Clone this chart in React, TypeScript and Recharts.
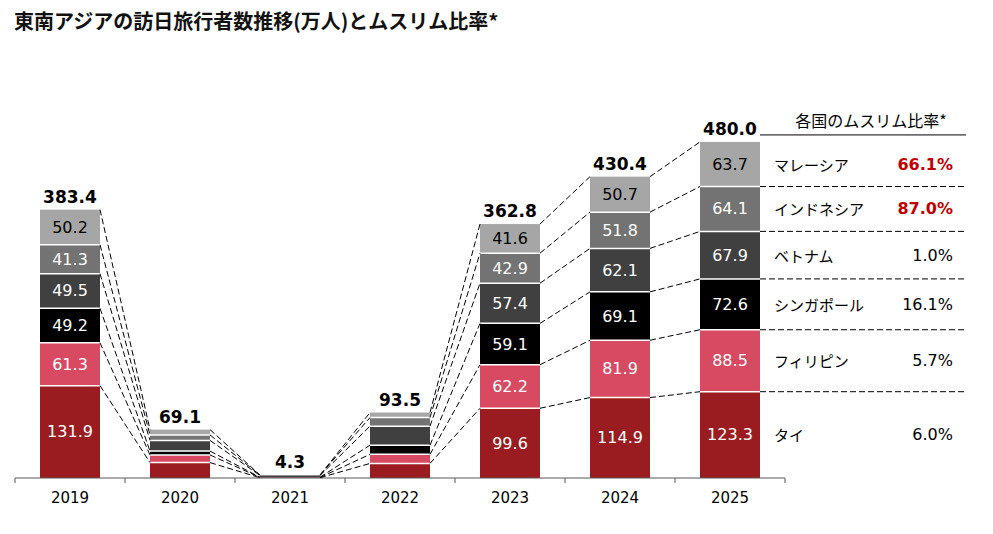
import React from 'react';
import { BarChart, Bar, XAxis, YAxis, LabelList } from 'recharts';

const years = ['2019', '2020', '2021', '2022', '2023', '2024', '2025'];

// 万人, listed from the bottom of each stack to the top
const thailand = [131.9, 22.0, 0.4, 20.8, 99.6, 114.9, 123.3];
const philippines = [61.3, 10.9, 0.4, 13.0, 62.2, 81.9, 88.5];
const singapore = [49.2, 5.5, 0.3, 13.1, 59.1, 69.1, 72.6];
const vietnam = [49.5, 15.3, 2.5, 27.1, 57.4, 62.1, 67.9];
const indonesia = [41.3, 7.8, 0.5, 12.4, 42.9, 51.8, 64.1];
const malaysia = [50.2, 7.6, 0.2, 7.1, 41.6, 50.7, 63.7];

const totals = ['383.4', '69.1', '4.3', '93.5', '362.8', '430.4', '480.0'];

const countryNames = ['タイ', 'フィリピン', 'シンガポール', 'ベトナム', 'インドネシア', 'マレーシア'];
const muslimRatios = ['6.0%', '5.7%', '16.1%', '1.0%', '87.0%', '66.1%'];

const seriesKeys = ['thailand', 'philippines', 'singapore', 'vietnam', 'indonesia', 'malaysia'];
const seriesValues = [thailand, philippines, singapore, vietnam, indonesia, malaysia];

const fills = ['#9B1C20', '#D84A62', '#000000', '#404040', '#737373', '#A6A6A6'];
const valueColors = ['#fff', '#fff', '#fff', '#fff', '#fff', '#000'];
const ratioHighlight = [false, false, false, false, true, true];

const NUM_FONT = '"DejaVu Sans", Verdana, sans-serif';
const JP_FONT = '"Noto Sans CJK JP", "Noto Sans", sans-serif';
const TABLE_WIDTH = 206;
const TICK_MARGIN = 15;
const AXIS_COLOR = '#595959';

const data = years.map((year, i) => {
  const row: Record<string, string | number> = { year };
  seriesKeys.forEach((key, s) => {
    row[key] = seriesValues[s][i];
  });
  return row;
});

const lastIndex = years.length - 1;
const topSeries = seriesKeys.length - 1;

// segment rectangle with a white gap drawn on its lower edge
const makeSegmentShape = (s: number) => (props: any) => {
  let { x, y, width, height } = props;
  if (height < 0) {
    y += height;
    height = -height;
  }
  return (
    <g>
      <rect x={x} y={y} width={width} height={height} fill={fills[s]} />
      {s > 0 && height >= 2 && (
        <line x1={x} x2={x + width} y1={y + height} y2={y + height} stroke="#fff" strokeWidth={1.5} />
      )}
    </g>
  );
};

// value text, dashed links to the next year, totals and the ratio table beside 2025
const makeSegmentLabel = (s: number) => {
  let prev: { x: number; y: number; w: number } | null = null;
  return (props: any) => {
    const vb = props.viewBox ?? props;
    const x = Number(vb.x);
    let y = Number(vb.y);
    const w = Number(vb.width);
    let h = Number(vb.height);
    if (h < 0) {
      y += h;
      h = -h;
    }
    const i = Number(props.index);
    if (i === 0) prev = null;
    const from = prev;
    prev = { x, y, w };

    const right = x + w;
    return (
      <g>
        {from && (
          <line
            x1={from.x + from.w}
            y1={from.y}
            x2={x}
            y2={y}
            stroke="#000"
            strokeWidth={1}
            strokeDasharray="6 3"
          />
        )}
        {h >= 24 && (
          <text
            x={x + w / 2}
            y={y + h / 2}
            textAnchor="middle"
            dominantBaseline="central"
            fontFamily={NUM_FONT}
            fontSize={16}
            fill={valueColors[s]}
          >
            {seriesValues[s][i].toFixed(1)}
          </text>
        )}
        {s === topSeries && (
          <text
            x={x + w / 2}
            y={y - 7}
            textAnchor="middle"
            fontFamily={NUM_FONT}
            fontWeight="bold"
            fontSize={17}
            fill="#000"
          >
            {totals[i]}
          </text>
        )}
        {i === lastIndex && (
          <g>
            {s !== topSeries && (
              <line
                x1={right}
                x2={right + TABLE_WIDTH}
                y1={y}
                y2={y}
                stroke="#000"
                strokeWidth={1}
                strokeDasharray="6 3"
              />
            )}
            <text
              x={right + 14}
              y={y + h / 2}
              dominantBaseline="central"
              fontFamily={JP_FONT}
              fontSize={15}
              fill="#000"
            >
              {countryNames[s]}
            </text>
            <text
              x={right + 193}
              y={y + h / 2}
              textAnchor="end"
              dominantBaseline="central"
              fontFamily={NUM_FONT}
              fontSize={16}
              fontWeight={ratioHighlight[s] ? 'bold' : 'normal'}
              fill={ratioHighlight[s] ? '#C00000' : '#000'}
            >
              {muslimRatios[s]}
            </text>
            {s === topSeries && (
              <g>
                <line x1={right} x2={right + TABLE_WIDTH} y1={y - 7} y2={y - 7} stroke="#000" strokeWidth={1} />
                <text
                  x={right + 111}
                  y={y - 15}
                  textAnchor="middle"
                  fontFamily={JP_FONT}
                  fontSize={16}
                  fill="#000"
                >
                  各国のムスリム比率*
                </text>
              </g>
            )}
          </g>
        )}
      </g>
    );
  };
};

const segmentShapes = seriesKeys.map((_, s) => makeSegmentShape(s));
const segmentLabels = seriesKeys.map((_, s) => makeSegmentLabel(s));

// year label plus tick marks on the category boundaries
const YearTick = (props: any) => {
  const { x, y, payload, index, visibleTicksCount, width } = props;
  const band = Number(width) / Number(visibleTicksCount);
  const axisY = y - TICK_MARGIN;
  return (
    <g>
      <line x1={x - band / 2} x2={x - band / 2} y1={axisY} y2={axisY + 5} stroke={AXIS_COLOR} />
      {index === visibleTicksCount - 1 && (
        <line x1={x + band / 2} x2={x + band / 2} y1={axisY} y2={axisY + 5} stroke={AXIS_COLOR} />
      )}
      <text
        x={x}
        y={axisY + 20}
        textAnchor="middle"
        dominantBaseline="central"
        fontFamily={NUM_FONT}
        fontSize={15}
        fill="#000"
      >
        {payload.value}
      </text>
    </g>
  );
};

const App: React.FC = () => {
  return (
    <div style={{ position: 'relative', width: 993, height: 534, marginLeft: -8, marginTop: -8, background: '#fff' }}>
      <div
        style={{
          position: 'absolute',
          left: 14,
          top: 11,
          fontFamily: JP_FONT,
          fontWeight: 'bold',
          fontSize: 20,
          lineHeight: '20px',
          color: '#111',
          whiteSpace: 'nowrap',
        }}
      >
        東南アジアの訪日旅行者数推移(万人)とムスリム比率*
      </div>
      <BarChart
        width={993}
        height={534}
        data={data}
        margin={{ top: 128, right: 208, left: 15, bottom: 26 }}
      >
        <XAxis
          dataKey="year"
          axisLine={{ stroke: AXIS_COLOR }}
          tickLine={false}
          tickSize={0}
          tickMargin={TICK_MARGIN}
          height={30}
          interval={0}
          tick={YearTick}
        />
        <YAxis hide domain={[0, 500]} />
        {seriesKeys.map((key, s) => (
          <Bar
            key={key}
            dataKey={key}
            name={countryNames[s]}
            stackId="visitors"
            barSize={60}
            fill={fills[s]}
            shape={segmentShapes[s]}
            isAnimationActive={false}
          >
            <LabelList dataKey={key} content={segmentLabels[s]} />
          </Bar>
        ))}
      </BarChart>
    </div>
  );
};

export default App;
